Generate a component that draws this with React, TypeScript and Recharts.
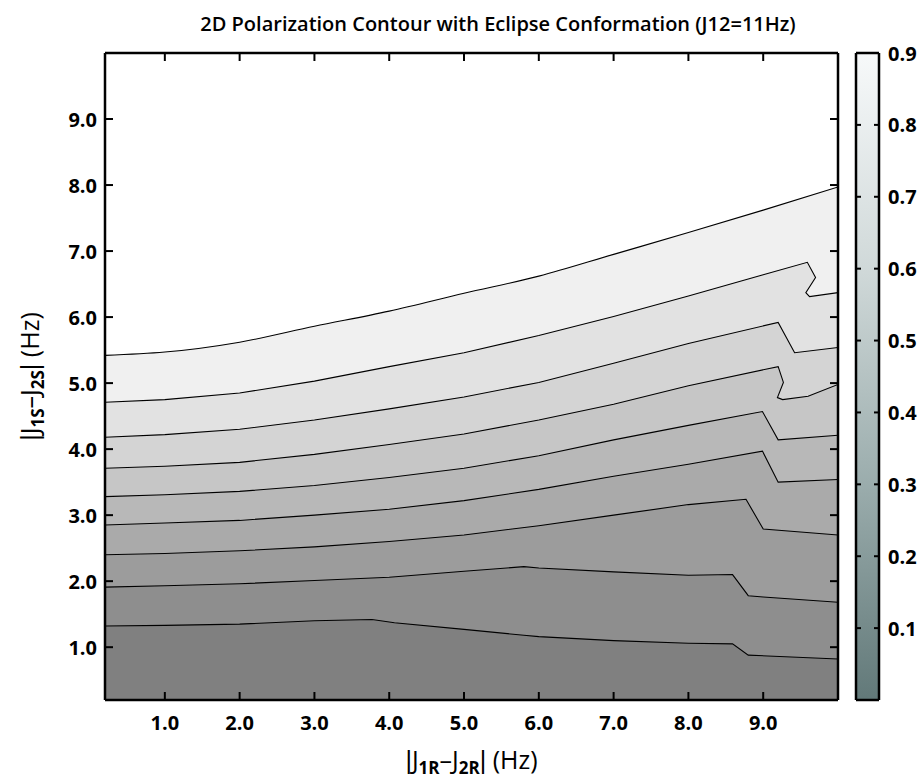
import React from 'react';
import { ComposedChart, Area, Line, XAxis, YAxis } from 'recharts';

const xTicks = [1, 2, 3, 4, 5, 6, 7, 8, 9];
const yTicks = [1, 2, 3, 4, 5, 6, 7, 8, 9];
const axisRange = [0.2, 10];
const barRange = [0, 0.9];
const barTicks = [0.1, 0.2, 0.3, 0.4, 0.5, 0.6, 0.7, 0.8, 0.9];

// contour lines, from the lightest (top) to the darkest (bottom): [x, y]
const contour1: number[][] = [[0.2, 5.42], [1, 5.47], [2, 5.62], [3, 5.86], [4, 6.09], [5, 6.36], [6, 6.62], [7, 6.95], [8, 7.28], [9, 7.62], [10, 7.97]];
const contour2: number[][] = [[0.2, 4.71], [1, 4.75], [2, 4.85], [3, 5.03], [4, 5.25], [5, 5.46], [6, 5.72], [7, 6.01], [8, 6.32], [9, 6.64], [9.59, 6.83], [9.7, 6.6], [9.57, 6.37], [9.62, 6.31], [10, 6.37]];
const contour3: number[][] = [[0.2, 4.18], [1, 4.22], [2, 4.3], [3, 4.44], [4, 4.61], [5, 4.79], [6, 5.01], [7, 5.3], [8, 5.6], [9.2, 5.92], [9.42, 5.46], [10, 5.54]];
const contour4: number[][] = [[0.2, 3.71], [1, 3.74], [2, 3.8], [3, 3.92], [4, 4.07], [5, 4.23], [6, 4.44], [7, 4.68], [8, 4.96], [9.2, 5.25], [9.27, 5.01], [9.19, 4.78], [9.26, 4.75], [9.6, 4.8], [10, 4.98]];
const contour5: number[][] = [[0.2, 3.28], [1, 3.31], [2, 3.36], [3, 3.45], [4, 3.57], [5, 3.71], [6, 3.9], [7, 4.14], [8, 4.36], [8.99, 4.57], [9.2, 4.14], [10, 4.21]];
const contour6: number[][] = [[0.2, 2.85], [1, 2.88], [2, 2.92], [3, 3.0], [4, 3.09], [5, 3.22], [6, 3.39], [7, 3.59], [8, 3.77], [8.99, 3.97], [9.2, 3.5], [10, 3.54]];
const contour7: number[][] = [[0.2, 2.4], [1, 2.42], [2, 2.46], [3, 2.52], [4, 2.6], [5, 2.7], [6, 2.84], [7, 3.0], [8, 3.16], [8.77, 3.24], [9.0, 2.79], [10, 2.7]];
const contour8: number[][] = [[0.2, 1.91], [1, 1.93], [2, 1.96], [3, 2.01], [4, 2.06], [5, 2.15], [5.8, 2.22], [6, 2.2], [7, 2.14], [8, 2.09], [8.59, 2.1], [8.8, 1.78], [9.0, 1.76], [10, 1.68]];
const contour9: number[][] = [[0.2, 1.32], [1, 1.33], [2, 1.35], [3, 1.4], [3.77, 1.42], [4.07, 1.37], [5, 1.27], [5.8, 1.18], [6, 1.16], [7, 1.1], [8, 1.06], [8.59, 1.05], [8.8, 0.88], [10, 0.82]];

const contours = [contour1, contour2, contour3, contour4, contour5, contour6, contour7, contour8, contour9];
// the top contour is a smooth curve; the others have sharp kinks
const curveTypes = ['monotoneX', 'linear', 'linear', 'linear', 'linear', 'linear', 'linear', 'linear', 'linear'];
const bandFills = ['#f0f0f0', '#e2e2e2', '#d4d4d4', '#c6c6c6', '#b8b8b8', '#aaaaaa', '#9c9c9c', '#8e8e8e', '#808080'];

const barData = [{ x: 0, y: barRange[1] }, { x: 1, y: barRange[1] }];

const FONT = "'Open Sans', 'DejaVu Sans', sans-serif";
const BAR = "'Liberation Sans', sans-serif";
const frame = { stroke: '#000', strokeWidth: 2.5 };
const fmt = (v: number) => v.toFixed(1);

const mainMargin = { top: 52, right: 85, bottom: 20, left: 45 };
const barMargin = { top: 52, right: 0, bottom: 79, left: 9 };

type Side = 'bottom' | 'top' | 'left' | 'right';

// tick renderer: an inward tick mark at the library's tick position, plus an optional label
const makeTick = (side: Side, len: number, withLabel: boolean, gap: number) => (props: any) => {
  const { x, y, payload } = props;
  const v = payload?.value as number;
  let line: any;
  let label: any = null;
  const txt = { fill: '#000', fontSize: 20, fontWeight: 700, fontFamily: FONT } as const;
  if (side === 'bottom') {
    line = <line x1={x} y1={y} x2={x} y2={y - len} stroke="#000" strokeWidth={2} />;
    if (withLabel) label = <text x={x} y={y + gap} textAnchor="middle" dominantBaseline="central" {...txt}>{fmt(v)}</text>;
  } else if (side === 'top') {
    line = <line x1={x} y1={y} x2={x} y2={y + len} stroke="#000" strokeWidth={2} />;
  } else if (side === 'left') {
    line = <line x1={x} y1={y} x2={x + len} y2={y} stroke="#000" strokeWidth={2} />;
    if (withLabel) label = <text x={x - gap} y={y} textAnchor="end" dominantBaseline="central" {...txt}>{fmt(v)}</text>;
  } else {
    line = <line x1={x} y1={y} x2={x - len} y2={y} stroke="#000" strokeWidth={2} />;
    if (withLabel) label = <text x={x + gap} y={y} textAnchor="start" dominantBaseline="central" {...txt}>{fmt(v)}</text>;
  }
  return (
    <g>
      {line}
      {label}
    </g>
  );
};

const AxisTitle = ({ a, b }: { a: string; b: string }) => (
  <>
    <tspan fontFamily={BAR}>|</tspan>J<tspan fontSize={17} fontWeight={700} dy={5}>{a}</tspan><tspan dy={-5}>–J</tspan><tspan fontSize={17} fontWeight={700} dy={5}>{b}</tspan><tspan dy={-5} fontFamily={BAR}>|</tspan><tspan> (Hz)</tspan>
  </>
);

const XLabel = (props: any) => {
  const vb = props.viewBox || { x: 105, y: 700, width: 733, height: 60 };
  const cx = vb.x + vb.width / 2;
  return (
    <text x={cx} y={vb.y + 69} textAnchor="middle" fontFamily={FONT} fontSize={25} fill="#000">
      <AxisTitle a="1R" b="2R" />
    </text>
  );
};

const YLabel = (props: any) => {
  const vb = props.viewBox || { x: 45, y: 53, width: 60, height: 647 };
  const cy = vb.y + vb.height / 2;
  const bx = vb.x - 6;
  return (
    <text transform={`translate(${bx}, ${cy}) rotate(-90)`} x={0} y={0} textAnchor="middle" fontFamily={FONT} fontSize={25} fill="#000">
      <AxisTitle a="1S" b="2S" />
    </text>
  );
};

function MainAxes({ visible }: { visible: boolean }) {
  const v = visible;
  return [
    <XAxis
      key="xb"
      dataKey="x"
      type="number"
      domain={axisRange}
      ticks={xTicks}
      allowDataOverflow
      height={60}
      tickSize={0}
      tickMargin={0}
      tick={v ? makeTick('bottom', 8, true, 22) : false}
      tickLine={false}
      axisLine={v ? frame : false}
      label={v ? { content: XLabel } : undefined}
    />,
    <XAxis
      key="xt"
      xAxisId="top"
      orientation="top"
      dataKey="x"
      type="number"
      domain={axisRange}
      ticks={xTicks}
      allowDataOverflow
      height={1}
      tickSize={0}
      tickMargin={0}
      tick={v ? makeTick('top', 8, false, 0) : false}
      tickLine={false}
      axisLine={v ? frame : false}
    />,
    <YAxis
      key="yl"
      type="number"
      domain={axisRange}
      ticks={yTicks}
      allowDataOverflow
      width={60}
      tickSize={0}
      tickMargin={0}
      tick={v ? makeTick('left', 8, true, 8) : false}
      tickLine={false}
      axisLine={v ? frame : false}
      label={v ? { content: YLabel } : undefined}
    />,
    <YAxis
      key="yr"
      yAxisId="right"
      orientation="right"
      type="number"
      domain={axisRange}
      ticks={yTicks}
      allowDataOverflow
      width={1}
      tickSize={0}
      tickMargin={0}
      tick={v ? makeTick('right', 8, false, 0) : false}
      tickLine={false}
      axisLine={v ? frame : false}
    />,
  ];
}

function BarAxes({ visible }: { visible: boolean }) {
  const v = visible;
  return [
    <XAxis key="xb" dataKey="x" type="number" domain={[0, 1]} allowDataOverflow height={1} tick={false} tickLine={false} axisLine={v ? frame : false} />,
    <XAxis key="xt" xAxisId="top" orientation="top" dataKey="x" type="number" domain={[0, 1]} allowDataOverflow height={1} tick={false} tickLine={false} axisLine={v ? frame : false} />,
    <YAxis
      key="yl"
      type="number"
      domain={barRange}
      ticks={barTicks}
      allowDataOverflow
      width={1}
      tickSize={0}
      tickMargin={0}
      tick={v ? makeTick('left', 5, false, 0) : false}
      tickLine={false}
      axisLine={v ? frame : false}
    />,
    <YAxis
      key="yr"
      yAxisId="right"
      orientation="right"
      type="number"
      domain={barRange}
      ticks={barTicks}
      allowDataOverflow
      width={45}
      tickSize={0}
      tickMargin={0}
      tick={v ? makeTick('right', 5, true, 9) : false}
      tickLine={false}
      axisLine={v ? frame : false}
    />,
  ];
}

const abs = (left: number): React.CSSProperties => ({ position: 'absolute', left, top: 0 });

export default function App() {
  return (
    <div style={{ position: 'absolute', left: 0, top: 0, width: 924, height: 780, background: '#fff' }}>
      {/* filled contour bands */}
      <div style={abs(0)}>
        <ComposedChart width={924} height={780} margin={mainMargin}>
          {contours.map((c, i) => (
            <Area
              key={i}
              data={c.map(([x, y]) => ({ x, y }))}
              dataKey="y"
              type={curveTypes[i] as any}
              baseValue="dataMin"
              fill={bandFills[i]}
              fillOpacity={1}
              stroke="none"
              dot={false}
              activeDot={false}
              isAnimationActive={false}
            />
          ))}
          {MainAxes({ visible: false })}
        </ComposedChart>
      </div>
      {/* contour lines, frame, ticks, labels */}
      <div style={abs(0)}>
        <ComposedChart width={924} height={780} margin={mainMargin}>
          <text x={498} y={31} textAnchor="middle" fontFamily={FONT} fontSize={20} fontWeight={600} fill="#000">
            2D Polarization Contour with Eclipse Conformation (J12=11Hz)
          </text>
          {contours.map((c, i) => (
            <Line
              key={i}
              data={c.map(([x, y]) => ({ x, y }))}
              dataKey="y"
              type={curveTypes[i] as any}
              stroke="#000"
              strokeWidth={1.1}
              dot={false}
              activeDot={false}
              isAnimationActive={false}
            />
          ))}
          {MainAxes({ visible: true })}
        </ComposedChart>
      </div>
      {/* colour bar */}
      <div style={abs(846)}>
        <ComposedChart width={78} height={780} margin={barMargin}>
          <defs>
            <linearGradient id="cbGrad" x1="0" y1="1" x2="0" y2="0">
              <stop offset="0%" stopColor="#627979" />
              <stop offset="33%" stopColor="#9aacac" />
              <stop offset="66%" stopColor="#cfd8d8" />
              <stop offset="100%" stopColor="#f7f9fa" />
            </linearGradient>
          </defs>
          <Area
            data={barData}
            dataKey="y"
            type="linear"
            baseValue="dataMin"
            fill="url(#cbGrad)"
            fillOpacity={1}
            stroke="none"
            dot={false}
            activeDot={false}
            isAnimationActive={false}
          />
          {BarAxes({ visible: false })}
        </ComposedChart>
      </div>
      <div style={abs(846)}>
        <ComposedChart width={78} height={780} margin={barMargin}>
          <Line data={barData} dataKey="y" stroke="none" dot={false} activeDot={false} isAnimationActive={false} />
          {BarAxes({ visible: true })}
        </ComposedChart>
      </div>
    </div>
  );
}
